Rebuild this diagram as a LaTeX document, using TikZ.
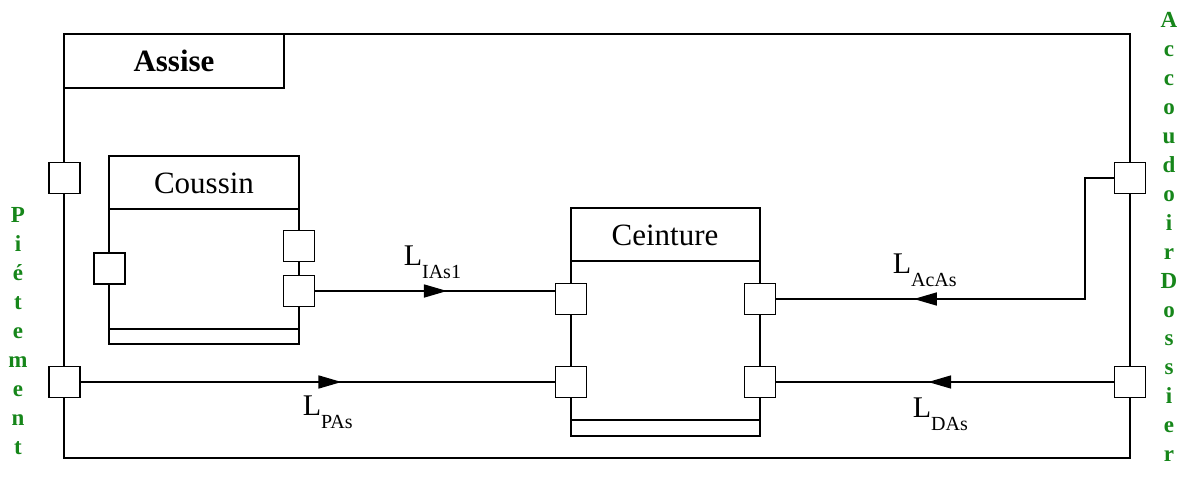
\documentclass[tikz,border=0pt]{standalone}
\usepackage{fontspec}
\setmainfont{Liberation Serif}
\usetikzlibrary{arrows.meta,decorations.markings}
\definecolor{sidegreen}{HTML}{16861A}
\newcommand{\linklab}[1]{L\raisebox{-13pt}{\fontsize{20}{22}\selectfont #1}}

\begin{document}
\begin{tikzpicture}[x=1pt,y=-1pt,line width=1.6pt,
  port/.style={draw,fill=white,minimum size=31pt,inner sep=0pt},
  titre/.style={font=\fontsize{31}{36}\selectfont},
  lien/.style={anchor=base west,inner sep=0pt,font=\fontsize{30}{34}\selectfont},
  cote/.style={text=sidegreen,anchor=base,inner sep=0pt,font=\fontsize{23}{28}\selectfont\bfseries},
  fleche/.style={decoration={markings,mark=at position #1 with {\arrow{Triangle[length=23pt,width=13pt]}}},postaction=decorate}]
  \useasboundingbox (0,0) rectangle (1182,484);

  % Assise
  \draw (64,34) rectangle (1130,458);
  \draw (64,34) rectangle (284,88);
  \node[titre] at (174,61) {\bfseries Assise};

  % Coussin
  \draw (109,156) rectangle (299,344);
  \draw (109,209) -- (299,209);
  \draw (109,329) -- (299,329);
  \node[titre] at (204,183) {Coussin};

  % Ceinture
  \draw (571,208) rectangle (760,436);
  \draw (571,261) -- (760,261);
  \draw (571,420) -- (760,420);
  \node[titre] at (665,235) {Ceinture};

  % ports
  \node[port] (pAssG) at (64.5,178) {};
  \node[port] (pPie) at (64.5,382) {};
  \node[port] (pAcc) at (1130,178) {};
  \node[port] (pDos) at (1130,382) {};
  \node[port] (pCousG) at (109.5,268.5) {};
  \node[port] (pCousD1) at (299,246) {};
  \node[port] (pCousD2) at (299,291) {};
  \node[port] (pCeinG1) at (571,299) {};
  \node[port] (pCeinG2) at (571,382) {};
  \node[port] (pCeinD1) at (760,299) {};
  \node[port] (pCeinD2) at (760,382) {};

  % liens
  \coordinate (acBend) at (1085,178);
  \draw[fleche=0.55] (pCousD2.east) -- (pCousD2.east -| pCeinG1.west);
  \draw[fleche=0.70] (pAcc.west) -- (acBend) |- (pCeinD1.east);
  \draw[fleche=0.55] (pPie.east) -- (pCeinG2.west);
  \draw[fleche=0.55] (pDos.west) -- (pCeinD2.east);
  \node[lien] at (403,265) {\linklab{IAs1}};
  \node[lien] at (892,273) {\linklab{AcAs}};
  \node[lien] at (302,415) {\linklab{PAs}};
  \node[lien] at (912,417) {\linklab{DAs}};

  % cotes
  \foreach \ch [count=\i from 0] in {P,i,é,t,e,m,e,n,t}
    \node[cote] at (18,222+29.1*\i) {\ch};
  \foreach \ch [count=\i from 0] in {A,c,c,o,u,d,o,i,r,D,o,s,s,i,e,r}
    \node[cote] at (1169,28+28.9*\i) {\ch};
\end{tikzpicture}
\end{document}
